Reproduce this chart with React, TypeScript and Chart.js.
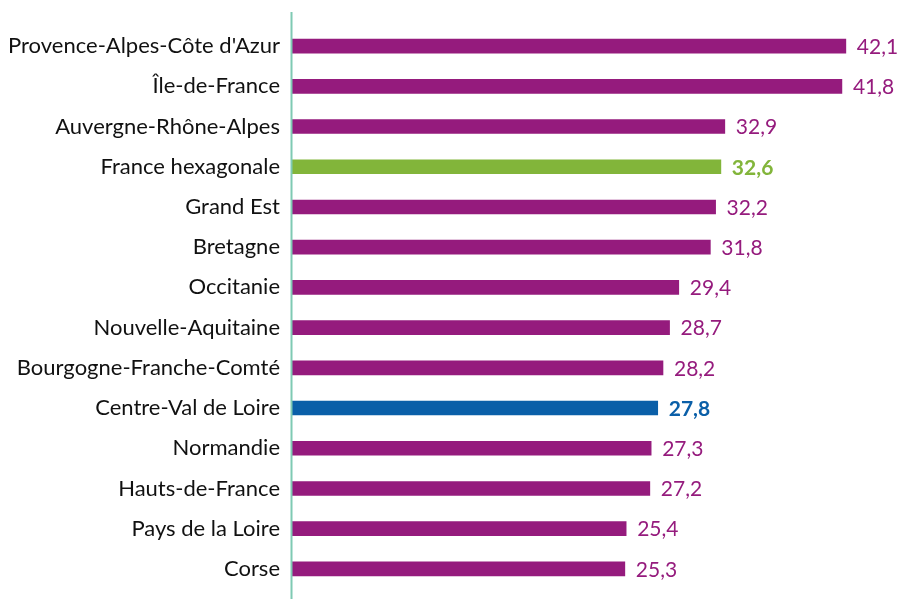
import React, { useEffect, useRef } from "react";
import { Chart, registerables } from "chart.js";

Chart.register(...registerables);

const categories = [
  "Provence-Alpes-Côte d'Azur",
  "Île-de-France",
  "Auvergne-Rhône-Alpes",
  "France hexagonale",
  "Grand Est",
  "Bretagne",
  "Occitanie",
  "Nouvelle-Aquitaine",
  "Bourgogne-Franche-Comté",
  "Centre-Val de Loire",
  "Normandie",
  "Hauts-de-France",
  "Pays de la Loire",
  "Corse",
];
const values = [42.1, 41.8, 32.9, 32.6, 32.2, 31.8, 29.4, 28.7, 28.2, 27.8, 27.3, 27.2, 25.4, 25.3];

const PURPLE = "#951b7d";
const GREEN = "#82b53a";
const BLUE = "#0a5fa8";
const FONT = "Lato, 'Open Sans', sans-serif";

const colorFor = (c: string) =>
  c === "France hexagonale" ? GREEN : c === "Centre-Val de Loire" ? BLUE : PURPLE;
const boldFor = (c: string) => c === "France hexagonale" || c === "Centre-Val de Loire";

const labelPlugin = {
  id: "valueLabels",
  afterDatasetsDraw(chart: any) {
    const ctx = chart.ctx;
    const meta = chart.getDatasetMeta(0);
    ctx.save();
    ctx.textBaseline = "middle";
    ctx.textAlign = "left";
    meta.data.forEach((bar: any, i: number) => {
      const cat = categories[i];
      ctx.fillStyle = colorFor(cat);
      ctx.font = `${boldFor(cat) ? "bold " : ""}21px ${FONT}`;
      ctx.fillText(values[i].toFixed(1).replace(".", ","), bar.x + 11, bar.y + 1);
    });
    ctx.restore();
  },
};

const axisLinePlugin = {
  id: "axisLine",
  afterDatasetsDraw(chart: any) {
    const ctx = chart.ctx;
    const x = chart.chartArea.left - 0.5;
    ctx.save();
    ctx.strokeStyle = "#7fcab3";
    ctx.lineWidth = 2;
    ctx.beginPath();
    ctx.moveTo(x, 12);
    ctx.lineTo(x, chart.height);
    ctx.stroke();
    ctx.restore();
  },
};

export default function App() {
  const ref = useRef<HTMLCanvasElement | null>(null);
  useEffect(() => {
    if (!ref.current) return;
    const chart = new Chart(ref.current, {
      type: "bar",
      data: {
        labels: categories,
        datasets: [
          {
            data: values,
            backgroundColor: categories.map(colorFor),
            barThickness: 14,
          },
        ],
      },
      options: {
        indexAxis: "y",
        animation: false,
        responsive: false,
        layout: { padding: { top: 26, bottom: 10, right: 15, left: 0 } },
        plugins: { legend: { display: false }, tooltip: { enabled: false } },
        scales: {
          x: { display: false, min: 0, max: 45 },
          y: {
            grid: { display: false },
            border: { display: false },
            ticks: {
              color: "#111",
              font: { family: FONT, size: 22 },
              padding: 4,
            },
            afterFit(scale: any) {
              scale.width = 292;
              scale.paddingTop = 0;
              scale.paddingBottom = 0;
            },
          },
        },
      },
      plugins: [labelPlugin, axisLinePlugin],
    });
    return () => chart.destroy();
  }, []);
  return (
    <div style={{ position: "fixed", left: 0, top: 0, width: 899, height: 599, background: "#fff" }}>
      <canvas ref={ref} width={899} height={599} style={{ width: 899, height: 599 }} />
    </div>
  );
}
